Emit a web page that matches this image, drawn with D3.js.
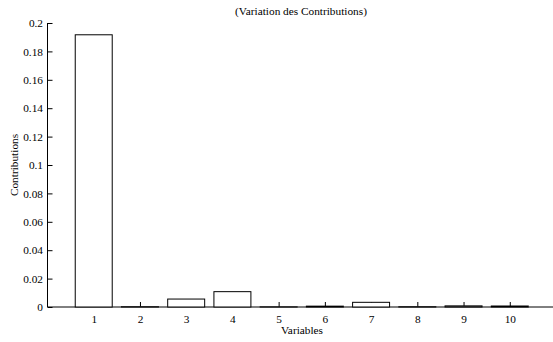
<!DOCTYPE html>
<html><head><meta charset="utf-8">
<script src="https://cdn.jsdelivr.net/npm/d3@7"></script>
<style>body{margin:0;background:#fff}svg{display:block}</style>
</head><body><svg id="c" width="553" height="342"></svg>
<script>
const categories = [1,2,3,4,5,6,7,8,9,10];
const values = [0.1917,0.0002,0.0056,0.0108,0.0001,0.0006,0.0033,0.0002,0.0008,0.0007];
const yTicks = [0,0.02,0.04,0.06,0.08,0.1,0.12,0.14,0.16,0.18,0.2];
const title = "(Variation des Contributions)";
const xLabel = "Variables";
const yLabel = "Contributions";

const FF = "Liberation Serif, Times New Roman, Times, DejaVu Serif, serif";
const svg = d3.select("#c").attr("font-family",FF);
const x = d3.scaleLinear().domain([0,11]).range([47.5,556]);
const y = d3.scaleLinear().domain([0,0.2]).range([307,23]);
const bw = (x(1)-x(0))*0.8;

const gy = svg.append("g").attr("transform","translate(47.5,0)")
  .call(d3.axisLeft(y).tickValues(yTicks).tickSize(-5).tickPadding(4.5).tickFormat(d3.format("~g")));
const gx = svg.append("g").attr("transform","translate(0,307)")
  .call(d3.axisBottom(x).tickValues(categories).tickSize(-5).tickPadding(8).tickFormat(d3.format("d")));
[gy,gx].forEach(g=>{
  g.attr("font-family",FF).attr("font-size",11.3);
  g.select(".domain").attr("stroke","#000").attr("d", g===gy ? "M0,307V23" : "M47.5,0H556");
  g.selectAll("line").attr("stroke","#000");
});
gx.selectAll("text").attr("dy","0.71em");

svg.append("g").selectAll("rect").data(values).join("rect")
  .attr("x",(d,i)=>x(categories[i])-bw/2).attr("width",bw)
  .attr("y",d=>y(d)).attr("height",d=>y(0)-y(d))
  .attr("fill","#fff").attr("stroke","#000").attr("stroke-width",1);

svg.append("text").attr("x",301).attr("y",15).attr("text-anchor","middle").attr("font-size",11.3).text(title);
svg.append("text").attr("x",302).attr("y",334).attr("text-anchor","middle").attr("font-size",11.3).text(xLabel);
svg.append("text").attr("transform","translate(17.5,165) rotate(-90)").attr("text-anchor","middle").attr("font-size",11.3).text(yLabel);
</script></body></html>
